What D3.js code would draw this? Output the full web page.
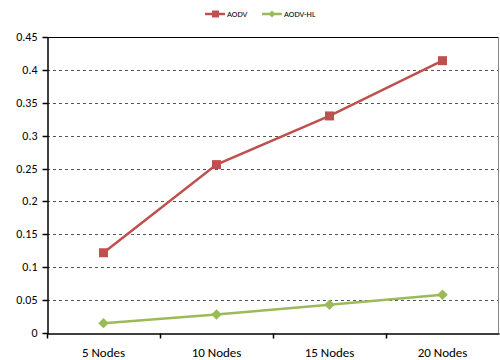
<!DOCTYPE html>
<html><head><meta charset="utf-8">
<script src="https://cdn.jsdelivr.net/npm/d3@7"></script>
<style>body{margin:0;background:#fff}svg{display:block}</style>
</head><body>
<svg id="c" width="500" height="360"></svg>
<script>
const categories = ["5 Nodes", "10 Nodes", "15 Nodes", "20 Nodes"];
const seriesNames = ["AODV", "AODV-HL"];
const aodv = [0.122, 0.256, 0.330, 0.414];
const aodvHL = [0.015, 0.028, 0.043, 0.058];
const yTicks = [0, 0.05, 0.1, 0.15, 0.2, 0.25, 0.3, 0.35, 0.4, 0.45];
const yTickLabels = ["0", "0.05", "0.1", "0.15", "0.2", "0.25", "0.3", "0.35", "0.4", "0.45"];
const colors = ["#C0504D", "#9BBB59"];

const svg = d3.select("#c");
const m = {l: 47, r: 1, t: 37, b: 27};
const W = 500, H = 360;
const x = d3.scaleBand().domain(categories).range([m.l, W - m.r]).padding(0);
const y = d3.scaleLinear().domain([0, 0.45]).range([H - m.b, m.t]);
const font = "Carlito, 'Liberation Sans', Arial, sans-serif";

// gridlines
svg.append("g").selectAll("line").data(yTicks.filter(d => d > 0 && d < 0.45)).join("line")
  .attr("x1", m.l).attr("x2", W - m.r)
  .attr("y1", d => Math.round(y(d)) + 0.5).attr("y2", d => Math.round(y(d)) + 0.5)
  .attr("stroke", "#555").attr("stroke-dasharray", "3,3").attr("stroke-width", 1);

// top border and right border
svg.append("line").attr("x1", m.l).attr("x2", W - m.r).attr("y1", Math.round(y(0.45)) + 0.5).attr("y2", Math.round(y(0.45)) + 0.5)
  .attr("stroke", "#000");
svg.append("line").attr("x1", W - m.r - 0.5).attr("x2", W - m.r - 0.5).attr("y1", y(0.45)).attr("y2", y(0))
  .attr("stroke", "#888");

// y axis
const yAxis = d3.axisLeft(y).tickValues(yTicks).tickFormat((d, i) => yTickLabels[i]).tickSize(5).tickSizeOuter(0);
const gy = svg.append("g").attr("transform", `translate(${m.l + 0.5},0.5)`).call(yAxis);
gy.selectAll("text").attr("font-family", font).attr("font-size", 12).attr("fill", "#000").attr("x", -10);
gy.selectAll("line, path").attr("stroke", "#000").attr("stroke-width", 1.5);
gy.selectAll(".tick").attr("transform", d => `translate(0,${Math.round(y(d))})`);

// x axis
const xAxis = d3.axisBottom(x).tickSize(0).tickSizeOuter(0);
const gx = svg.append("g").attr("transform", `translate(0,${Math.round(y(0)) + 0.5})`).call(xAxis);
gx.select("path").attr("stroke", "#000").attr("stroke-width", 1.5);
gx.selectAll("text").attr("font-family", font).attr("font-size", 13).attr("fill", "#000").attr("dy", "1.55em");
// boundary ticks
const bounds = categories.slice(1).map(c => x(c)).concat([x(categories[0])]);
gx.selectAll(".bt").data(bounds).join("line").attr("class", "bt")
  .attr("x1", d => Math.round(d) + 0.5).attr("x2", d => Math.round(d) + 0.5).attr("y1", 0).attr("y2", 5)
  .attr("stroke", "#000").attr("stroke-width", 1.5);

const cx = c => x(c) + x.bandwidth() / 2;
const line = d3.line().x((d, i) => cx(categories[i])).y(d => y(d));

// AODV
svg.append("path").datum(aodv).attr("d", line).attr("fill", "none").attr("stroke", colors[0]).attr("stroke-width", 2.5);
svg.append("g").selectAll("rect").data(aodv).join("rect")
  .attr("x", (d, i) => cx(categories[i]) - 4.5).attr("y", d => y(d) - 4.5)
  .attr("width", 9).attr("height", 9).attr("fill", colors[0]);

// AODV-HL
svg.append("path").datum(aodvHL).attr("d", line).attr("fill", "none").attr("stroke", colors[1]).attr("stroke-width", 2.5);
const diamond = d3.symbol().type(d3.symbolDiamond2).size(70);
svg.append("g").selectAll("path").data(aodvHL).join("path")
  .attr("d", diamond)
  .attr("transform", (d, i) => `translate(${cx(categories[i])},${y(d)})`)
  .attr("fill", colors[1]);

// legend
const leg = svg.append("g").attr("transform", "translate(0,14)");
const legX = [205, 262];
seriesNames.forEach((n, i) => {
  const g = leg.append("g").attr("transform", `translate(${legX[i]},0)`);
  g.append("line").attr("x1", 0).attr("x2", 20).attr("y1", 0).attr("y2", 0).attr("stroke", colors[i]).attr("stroke-width", 2.5);
  if (i === 0) g.append("rect").attr("x", 7).attr("y", -3.5).attr("width", 7).attr("height", 7).attr("fill", colors[i]);
  else g.append("path").attr("d", d3.symbol().type(d3.symbolDiamond2).size(30)).attr("transform", "translate(10,0)").attr("fill", colors[i]);
  g.append("text").attr("x", 22).attr("y", 0).attr("dy", "0.35em").attr("font-family", font).attr("font-size", 8.5).attr("fill", "#000").text(n);
});
</script>
</body></html>
